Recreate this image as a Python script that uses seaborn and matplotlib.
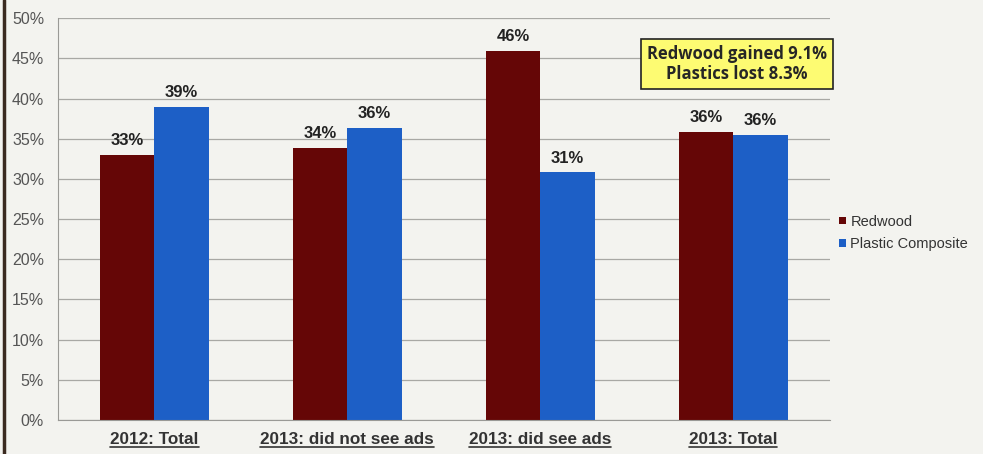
import matplotlib
matplotlib.use("Agg")
import matplotlib.pyplot as plt
from matplotlib.lines import Line2D
from matplotlib.ticker import MultipleLocator, FuncFormatter
import numpy as np
import pandas as pd
import seaborn as sns

# values (percent)
groups = ["2012: Total", "2013: did not see ads", "2013: did see ads", "2013: Total"]
redwood = [33.0, 33.8, 45.9, 35.8]
plastic = [38.9, 36.3, 30.8, 35.5]
series = ["Redwood", "Plastic Composite"]
colors = {"Redwood": "#650606", "Plastic Composite": "#1d5fc6"}

df = pd.DataFrame({
    "group": groups * 2,
    "material": [series[0]] * 4 + [series[1]] * 4,
    "share": redwood + plastic,
})

sns.set_style("white")
plt.rcParams["font.family"] = ["Liberation Sans", "DejaVu Sans"]

fig = plt.figure(figsize=(9.83, 4.54), dpi=100, facecolor="#f3f3ef")
ax = fig.add_axes([0.059, 0.075, 0.785, 0.885])
ax.set_facecolor("#f3f3ef")

sns.barplot(data=df, x="group", y="share", hue="material", palette=colors,
            width=0.565, saturation=1, linewidth=0, ax=ax, legend=True)

ax.set_ylim(0, 50)
ax.set_xlim(-0.5, 3.5)
ax.yaxis.set_major_locator(MultipleLocator(5))
ax.yaxis.set_major_formatter(FuncFormatter(lambda v, p: f"{v:.0f}%"))
ax.grid(axis="y", color="#a8a8a4", linewidth=0.9)
ax.set_axisbelow(True)
for side in ["top", "right"]:
    ax.spines[side].set_visible(False)
ax.spines["left"].set_color("#9a9a96")
ax.spines["bottom"].set_color("#9a9a96")
ax.set_xlabel("")
ax.set_ylabel("")
ax.tick_params(axis="y", labelsize=11.5, labelcolor="#555555", length=5, color="#9a9a96", pad=5)

# group boundary ticks on the x axis
ax.set_xticks([0, 1, 2, 3])
ax.set_xticks([-0.5, 0.5, 1.5, 2.5, 3.5], minor=True)
ax.tick_params(axis="x", which="major", length=0, pad=9)
ax.tick_params(axis="x", which="minor", length=5, color="#9a9a96")
ax.set_xticklabels(groups, fontsize=12.3, fontweight="bold", color="#333333")

# value labels
for cont in ax.containers:
    ax.bar_label(cont, labels=[f"{v:.0f}%" for v in cont.datavalues], padding=5,
                 fontsize=12, fontweight="bold", color="#222222")

ax.text(3.02, 44.3, "Redwood gained 9.1%\nPlastics lost 8.3%", ha="center", va="center",
        fontsize=12, fontweight="bold", family=["Open Sans", "DejaVu Sans"],
        linespacing=1.2,
        bbox=dict(boxstyle="square,pad=0.35", facecolor="#fdfb72", edgecolor="#222222", linewidth=1.2))

leg = ax.legend(loc="center left", bbox_to_anchor=(1.005, 0.465), frameon=False,
                fontsize=10.5, handlelength=0.45, handleheight=0.45, handletextpad=0.3,
                labelspacing=0.6, borderaxespad=0.0)
for t in leg.get_texts():
    t.set_color("#333333")

# underline the category labels
fig.canvas.draw()
renderer = fig.canvas.get_renderer()
inv = fig.transFigure.inverted()
for lab in ax.get_xticklabels():
    bb = lab.get_window_extent(renderer)
    (x0, y0), (x1, y1) = inv.transform([[bb.x0, bb.y0], [bb.x1, bb.y1]])
    fig.add_artist(Line2D([x0, x1], [y0 + 0.002, y0 + 0.002], color="#333333", linewidth=1.2))

# dark border at the left edge
fig.add_artist(Line2D([0.004, 0.004], [0, 1], color="#3a2a20", linewidth=2.5))

fig.savefig("out.png", dpi=100, facecolor=fig.get_facecolor())
